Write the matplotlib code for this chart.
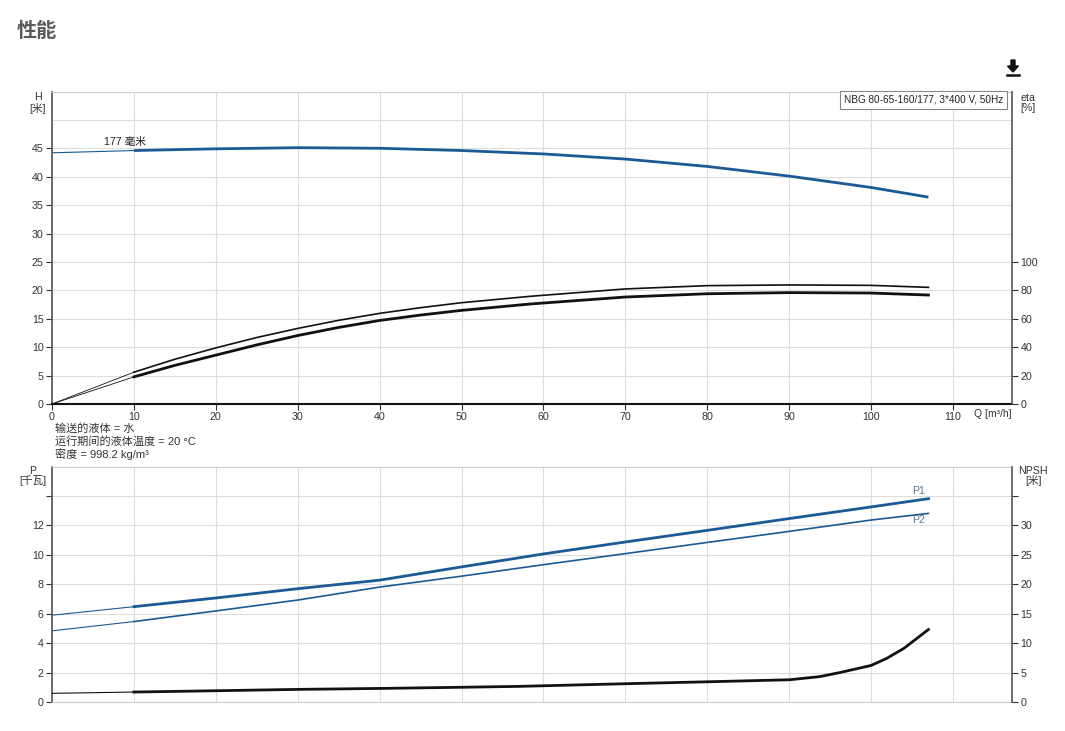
import matplotlib
matplotlib.use("Agg")
import matplotlib.pyplot as plt
import numpy as np

plt.rcParams['font.family'] = ['Liberation Sans', 'Noto Sans CJK SC', 'DejaVu Sans']

# ---- data ----
q_ext = [0, 10]

q_h = [10, 20, 30, 40, 50, 60, 70, 80, 90, 100, 107]
h_main = [44.6, 44.9, 45.1, 45.0, 44.6, 44.0, 43.1, 41.8, 40.1, 38.1, 36.4]
h_ext = [44.2, 44.6]

q_eta = [10, 15, 20, 25, 30, 35, 40, 45, 50, 58.4, 70, 80, 90, 100, 107]
eta1_main = [22.4, 31.5, 39.5, 46.8, 53.2, 58.9, 63.8, 67.8, 71.3, 75.8, 81.0, 83.3, 83.8, 83.5, 82.1]
eta2_main = [19.1, 27.2, 34.4, 41.6, 48.2, 53.9, 58.8, 62.6, 65.9, 70.4, 75.3, 77.6, 78.4, 78.1, 76.7]
eta1_ext = [0, 22.4]
eta2_ext = [0, 19.1]

q_p = [10, 20, 30, 40, 50, 60, 70, 80, 90, 100, 107]
p1_main = [6.47, 7.06, 7.69, 8.27, 9.17, 10.05, 10.86, 11.65, 12.45, 13.24, 13.8]
p1_ext = [5.89, 6.47]
p2_main = [5.46, 6.18, 6.92, 7.8, 8.54, 9.32, 10.07, 10.83, 11.58, 12.35, 12.8]
p2_ext = [4.83, 5.46]

q_npsh = [10, 20, 30, 40, 50, 57, 70, 80, 90, 93.7, 96.2, 100, 101.9, 104, 107]
npsh_main = [1.69, 1.91, 2.14, 2.3, 2.5, 2.65, 3.1, 3.43, 3.77, 4.3, 5.0, 6.2, 7.4, 9.1, 12.3]
npsh_ext = [1.47, 1.69]

x_ticks = [0, 10, 20, 30, 40, 50, 60, 70, 80, 90, 100, 110]
h_ticks = [0, 5, 10, 15, 20, 25, 30, 35, 40, 45]
eta_ticks = [0, 20, 40, 60, 80, 100]
p_ticks = [0, 2, 4, 6, 8, 10, 12]
npsh_ticks = [0, 5, 10, 15, 20, 25, 30]

BLUE = '#1b5a96'
GRID = '#dddddd'
TXT = '#333333'
SPINE = '#555555'
FS = 7.7

fig = plt.figure(figsize=(10.65, 7.31), dpi=100)
fig.patch.set_facecolor('white')

fig.text(17/1065, 1 - 31/731, '性能', fontsize=14.5, fontweight='bold', color='#5a5a5a',
         va='center', ha='left')

# download icon
fig.patches.append(matplotlib.patches.FancyArrow(1013/1065, 1 - 60/731, 0, -12/731, width=4/1065,
                                                 head_width=11/1065, head_length=6/731,
                                                 length_includes_head=True, color='#111111',
                                                 transform=fig.transFigure, figure=fig))
fig.add_artist(plt.Line2D([1007/1065, 1019/1065], [1 - 75/731, 1 - 75/731], color='#111111',
                          lw=1.8, transform=fig.transFigure))

def style_axes(ax, bottom_dark):
    ax.set_xlim(0, 117.2)
    ax.grid(True, color=GRID, lw=0.8)
    ax.set_axisbelow(True)
    ax.spines['top'].set_color('#cccccc')
    ax.spines['left'].set_color(SPINE)
    ax.spines['left'].set_linewidth(1.2)
    ax.spines['right'].set_visible(False)
    if bottom_dark:
        ax.spines['bottom'].set_color('#111111')
        ax.spines['bottom'].set_linewidth(1.5)
    else:
        ax.spines['bottom'].set_color('#cccccc')
    ax.tick_params(labelsize=FS, colors=TXT, length=4, width=0.8, pad=2)
    ax.set_xticks(x_ticks)

# ---- top axes ----
ax1 = fig.add_axes([52/1065, 1 - 404/731, 960/1065, 312/731])
style_axes(ax1, True)
ax1.set_ylim(0, 54.9)
ax1.set_yticks(h_ticks)
ax1.set_yticks([50], minor=True)
ax1.yaxis.grid(True, which='minor', color=GRID, lw=0.8)
ax1.tick_params(axis='y', which='minor', length=0)
ax1.plot(q_ext, h_ext, color=BLUE, lw=0.8)
ax1.plot(q_h, h_main, color=BLUE, lw=2.0, solid_capstyle='butt')
ax1.text(11.4, 45.2, '177 毫米', fontsize=FS, color='#222222', ha='right', va='bottom')
fig.text(1003/1065, 1 - 100/731, 'NBG 80-65-160/177, 3*400 V, 50Hz',
         fontsize=7.2, color='#222222', ha='right', va='center',
         bbox=dict(boxstyle='square,pad=0.4', fc='white', ec='#888888', lw=0.8))
fig.text(38/1065, 1 - 103/731, 'H\n[米]', fontsize=FS, color=TXT, ha='center', va='center',
         linespacing=1.0)
fig.text(1028/1065, 1 - 103/731, 'eta\n[%]', fontsize=FS, color=TXT, ha='center', va='center',
         linespacing=1.0)
fig.text(974/1065, 1 - 414/731, 'Q [m³/h]', fontsize=7.5, color=TXT, ha='left', va='center')

ax1b = ax1.twinx()
ax1b.set_ylim(0, 54.9 * 4)
ax1b.set_yticks(eta_ticks)
for s in ['top', 'bottom', 'left']:
    ax1b.spines[s].set_visible(False)
ax1b.spines['right'].set_color(SPINE)
ax1b.spines['right'].set_linewidth(1.2)
ax1b.tick_params(labelsize=FS, colors=TXT, length=4, width=0.8, pad=2)
ax1b.plot(q_ext, eta1_ext, color='#111111', lw=0.6)
ax1b.plot(q_ext, eta2_ext, color='#111111', lw=0.6)
ax1b.plot(q_eta, eta1_main, color='#111111', lw=1.2)
ax1b.plot(q_eta, eta2_main, color='#111111', lw=2.0)

fig.text(55/1065, 1 - 428/731, '输送的液体 = 水', fontsize=8, color=TXT, va='center')
fig.text(55/1065, 1 - 441/731, '运行期间的液体温度 = 20 °C', fontsize=8, color=TXT, va='center')
fig.text(55/1065, 1 - 454/731, '密度 = 998.2 kg/m³', fontsize=8, color=TXT, va='center')

# ---- bottom axes ----
ax2 = fig.add_axes([52/1065, 1 - 702/731, 960/1065, 235/731])
style_axes(ax2, False)
ax2.set_ylim(0, 15.95)
ax2.set_yticks(p_ticks)
ax2.set_yticks([14], minor=True)
ax2.yaxis.grid(True, which='minor', color=GRID, lw=0.8)
ax2.tick_params(axis='y', which='minor', length=4, width=0.8, colors=TXT)
ax2.tick_params(axis='x', labelbottom=False, length=0)
ax2.plot(q_ext, p1_ext, color=BLUE, lw=0.8)
ax2.plot(q_ext, p2_ext, color=BLUE, lw=0.8)
ax2.plot(q_p, p1_main, color=BLUE, lw=2.0)
ax2.plot(q_p, p2_main, color=BLUE, lw=1.2)
ax2.text(106.6, p1_main[-1] + 0.15, 'P1', fontsize=FS, color='#5a7896', ha='right', va='bottom')
ax2.text(106.6, p2_main[-1] - 0.1, 'P2', fontsize=FS, color='#5a7896', ha='right', va='top')
fig.text(33/1065, 1 - 476/731, 'P\n[千瓦]', fontsize=FS, color=TXT, ha='center', va='center',
         linespacing=1.0)
fig.text(1033/1065, 1 - 476/731, 'NPSH\n[米]', fontsize=FS, color=TXT, ha='center', va='center',
         linespacing=1.0)

ax2b = ax2.twinx()
ax2b.set_ylim(0, 15.95 * 2.5)
ax2b.set_yticks(npsh_ticks)
ax2b.set_yticks([35], minor=True)
ax2b.tick_params(axis='y', which='minor', length=4, width=0.8, colors=TXT)
for s in ['top', 'bottom', 'left']:
    ax2b.spines[s].set_visible(False)
ax2b.spines['right'].set_color(SPINE)
ax2b.spines['right'].set_linewidth(1.2)
ax2b.tick_params(labelsize=FS, colors=TXT, length=4, width=0.8, pad=2)
ax2b.plot(q_ext, npsh_ext, color='#111111', lw=0.8)
ax2b.plot(q_npsh, npsh_main, color='#111111', lw=2.0)

fig.savefig('out.png', dpi=100, facecolor='white')
